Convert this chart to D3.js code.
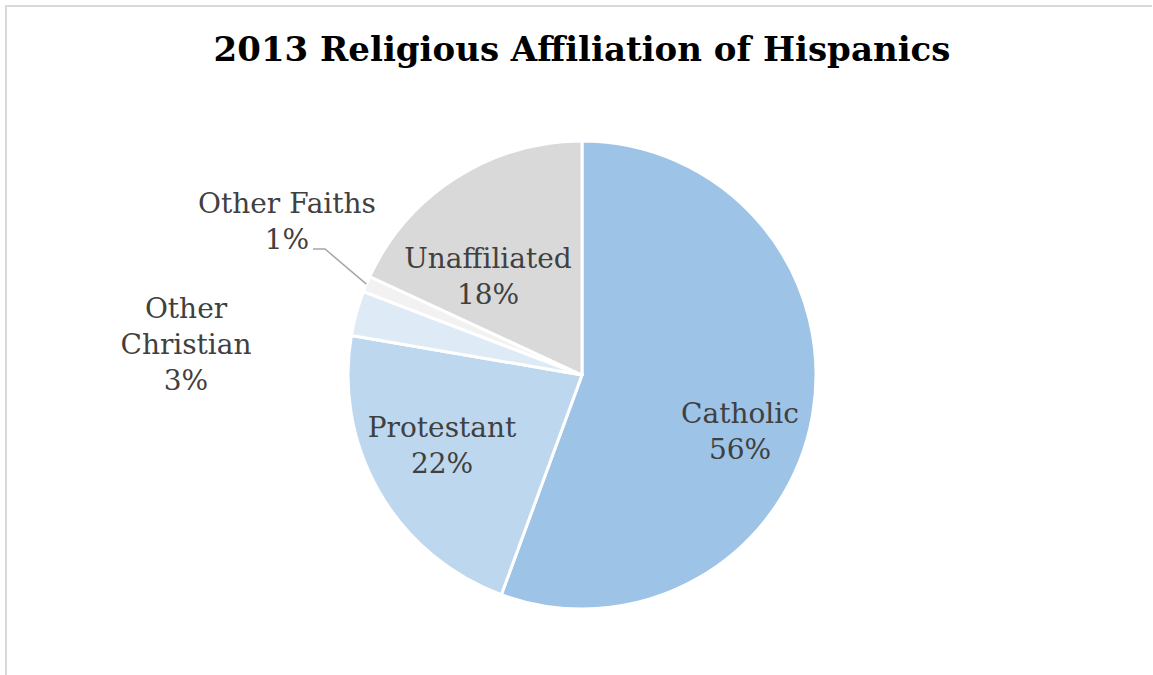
<!DOCTYPE html>
<html>
<head>
<meta charset="utf-8">
<script src="https://cdn.jsdelivr.net/npm/d3@7"></script>
<style>
  html, body { margin: 0; padding: 0; background: #fff; }
</style>
</head>
<body>
<svg id="chart" width="1153" height="675"></svg>
<script>
// chart data (shares; labels show the rounded percent)
const categories = ["Catholic", "Protestant", "Other Christian", "Other Faiths", "Unaffiliated"];
const shares = [55.6, 22.1, 3.1, 1.1, 18.1];
const sliceColors = ["#9dc3e6", "#bdd7ee", "#deebf7", "#f2f2f2", "#d9d9d9"];
const titleText = "2013 Religious Affiliation of Hispanics";

const width = 1153, height = 675;
const cx = 582, cy = 375, radius = 234;
const fontFamily = "'DejaVu Serif', Georgia, serif";

const svg = d3.select("#chart");

// chart frame (only the top and left edges are visible in the crop)
svg.append("path")
    .attr("d", `M6,${height} L6,6 L${width - 1},6`)
    .attr("fill", "none")
    .attr("stroke", "#d9d9d9")
    .attr("stroke-width", 2);

// title
svg.append("text")
    .attr("x", cx)
    .attr("y", 61)
    .attr("text-anchor", "middle")
    .style("font-family", fontFamily)
    .style("font-weight", "bold")
    .style("font-size", "34px")
    .style("fill", "#000")
    .text(titleText);

const data = categories.map((c, i) => ({ name: c, value: shares[i], color: sliceColors[i] }));
const total = d3.sum(data, d => d.value);

const pie = d3.pie().sort(null).value(d => d.value);
const arcs = pie(data);

const arc = d3.arc().innerRadius(0).outerRadius(radius);

const g = svg.append("g").attr("transform", `translate(${cx},${cy})`);

g.selectAll("path.slice")
  .data(arcs)
  .join("path")
    .attr("class", "slice")
    .attr("d", arc)
    .attr("fill", d => d.data.color)
    .attr("stroke", "#fff")
    .attr("stroke-width", 3)
    .attr("stroke-linejoin", "round");

// label placement (offsets from pie centre), layout only
const labelPos = {
  "Catholic": [158, 48],
  "Protestant": [-140, 62],
  "Unaffiliated": [-94, -107],
  "Other Faiths": [-295, -162],
  "Other Christian": [-396, -57]
};
const pct = d => Math.round(d.data.value / total * 100) + "%";
const labelLines = d => {
  if (d.data.name === "Other Christian") return ["Other", "Christian", pct(d)];
  return [d.data.name, pct(d)];
};

const labels = g.selectAll("text.label")
  .data(arcs)
  .join("text")
    .attr("class", "label")
    .attr("text-anchor", "middle")
    .style("font-family", fontFamily)
    .style("font-size", "28px")
    .style("fill", "#404040")
    .attr("transform", d => `translate(${labelPos[d.data.name][0]},${labelPos[d.data.name][1]})`);

labels.each(function(d) {
  d3.select(this).selectAll("tspan")
    .data(labelLines(d))
    .join("tspan")
      .attr("x", 0)
      .attr("dy", (t, i) => i === 0 ? 0 : 36)
      .text(t => t);
});

// leader line for the small "Other Faiths" slice
const faiths = arcs.find(d => d.data.name === "Other Faiths");
const mid = (faiths.startAngle + faiths.endAngle) / 2;
const edge = [Math.sin(mid) * radius, -Math.cos(mid) * radius];
g.append("polyline")
    .attr("points", [[-269, -126], [-257, -126], edge].map(p => p.join(",")).join(" "))
    .attr("fill", "none")
    .attr("stroke", "#a6a6a6")
    .attr("stroke-width", 1.5);
</script>
</body>
</html>
